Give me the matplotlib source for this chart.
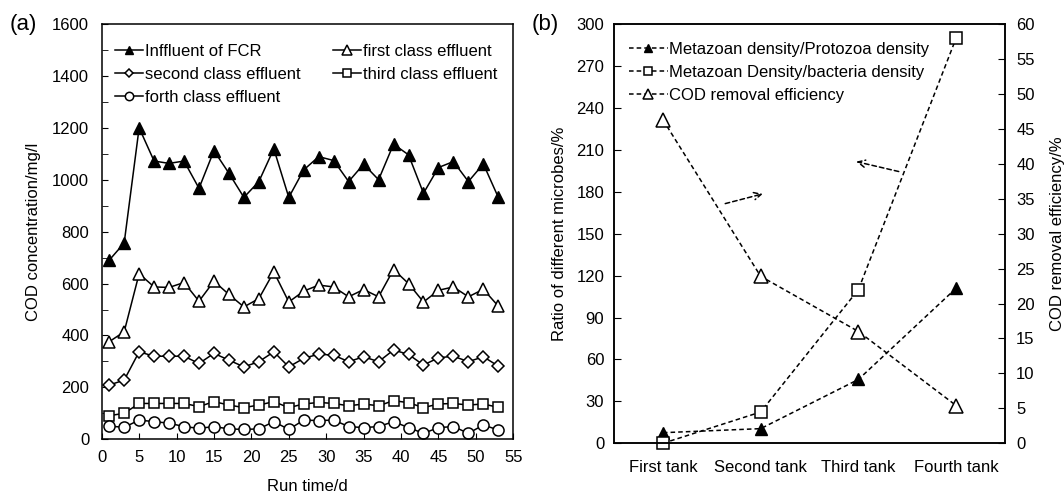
import matplotlib
matplotlib.use("Agg")
import matplotlib.pyplot as plt
from matplotlib.ticker import MultipleLocator

plt.rcParams['font.family'] = ['Liberation Sans', 'DejaVu Sans']

# ---------------- data: panel (a) ----------------
run_days = [1, 3, 5, 7, 9, 11, 13, 15, 17, 19, 21, 23, 25, 27, 29, 31, 33, 35, 37, 39, 41, 43, 45, 47, 49, 51, 53]
influent = [690, 756, 1200, 1072, 1063, 1072, 967, 1112, 1025, 932, 993, 1119, 932, 1038, 1089, 1074, 993, 1060, 1000, 1137, 1096, 948, 1047, 1070, 993, 1061, 932]
first_eff = [376, 414, 638, 587, 585, 604, 532, 609, 558, 510, 542, 645, 529, 571, 594, 587, 549, 577, 549, 654, 600, 529, 574, 587, 549, 578, 513]
second_eff = [209, 228, 337, 320, 320, 320, 292, 331, 305, 279, 299, 337, 279, 312, 328, 324, 299, 318, 299, 344, 327, 286, 314, 320, 299, 318, 282]
third_eff = [91, 100, 138, 138, 138, 138, 126, 145, 132, 122, 132, 145, 122, 136, 142, 138, 129, 136, 129, 149, 141, 122, 136, 138, 132, 136, 123]
forth_eff = [51, 46, 74, 68, 62, 49, 42, 49, 40, 38, 40, 68, 38, 74, 72, 74, 49, 45, 49, 68, 45, 23, 45, 49, 23, 55, 36]

# ---------------- data: panel (b) ----------------
tanks = ["First tank", "Second tank", "Third tank", "Fourth tank"]
meta_proto = [7.6, 10.5, 45.7, 111]
meta_bact = [0, 22.4, 110, 290]
cod_removal = [46.3, 23.9, 16.0, 5.4]

fig = plt.figure(figsize=(10.64, 4.98), dpi=100)

TICK_FS = 12
LEG_FS = 12

# ---------------- panel (a) ----------------
axa = fig.add_axes([0.0956, 0.1179, 0.3868, 0.8339])
lw = 1.1
common = dict(color='black', lw=lw, mec='black', clip_on=False)
axa.plot(run_days, influent, '-', marker='^', ms=8, mfc='black',
         label='Inffluent of FCR', **common)
axa.plot(run_days, first_eff, '-', marker='^', ms=9, mfc='white', mew=1.1,
         label='first class effluent', **common)
axa.plot(run_days, second_eff, '-', marker='D', ms=6, mfc='white', mew=1.1,
         label='second class effluent', **common)
axa.plot(run_days, third_eff, '-', marker='s', ms=7.5, mfc='white', mew=1.1,
         label='third class effluent', **common)
axa.plot(run_days, forth_eff, '-', marker='o', ms=8, mfc='white', mew=1.1,
         label='forth class effluent', **common)

axa.set_xlim(0, 55)
axa.set_ylim(0, 1600)
axa.xaxis.set_major_locator(MultipleLocator(5))
axa.yaxis.set_major_locator(MultipleLocator(200))
axa.yaxis.set_minor_locator(MultipleLocator(100))
axa.tick_params(axis='both', which='both', direction='in', labelsize=TICK_FS)
axa.tick_params(axis='x', which='major', length=4, pad=8)
axa.tick_params(axis='y', which='both', length=4, pad=9)
for s in axa.spines.values():
    s.set_linewidth(1.1)
    s.set_zorder(3)
axa.set_xlabel('Run time/d', fontsize=TICK_FS, labelpad=10)
axa.set_ylabel('COD concentration/mg/l', fontsize=TICK_FS, labelpad=8)

h, l = axa.get_legend_handles_labels()
order = [0, 2, 4, 1, 3]
axa.legend([h[i] for i in order], [l[i] for i in order], ncol=2, frameon=False,
           loc='upper left', bbox_to_anchor=(0.0, 0.985), fontsize=LEG_FS,
           handlelength=1.7, handletextpad=0.12, columnspacing=1.9,
           labelspacing=0.5, borderaxespad=0.4, markerscale=0.75)

fig.text(0.009, 0.95, '(a)', fontsize=16, va='center', ha='left')

# ---------------- panel (b) ----------------
axb = fig.add_axes([0.5771, 0.1098, 0.3675, 0.842])
xpos = list(range(len(tanks)))
dash = (0, (3, 2))
commonb = dict(color='black', lw=1.1, linestyle=dash, mec='black', clip_on=False)
axb.plot(xpos, meta_proto, marker='^', ms=8, mfc='black',
         label='Metazoan density/Protozoa density', **commonb)
axb.plot(xpos, meta_bact, marker='s', ms=8.5, mfc='white', mew=1.1,
         label='Metazoan Density/bacteria density', **commonb)
axb2 = axb.twinx()
axb2.plot(xpos, cod_removal, marker='^', ms=10.5, mfc='white', mew=1.1,
          label='COD removal efficiency', **commonb)

axb.set_xlim(-0.5, 3.5)
axb.set_ylim(0, 300)
axb2.set_ylim(0, 60)
axb.set_xticks(xpos)
axb.set_xticklabels(tanks)
axb.yaxis.set_major_locator(MultipleLocator(30))
axb2.yaxis.set_major_locator(MultipleLocator(5))
axb.tick_params(axis='x', length=0, pad=12, labelsize=TICK_FS)
axb.tick_params(axis='y', direction='in', length=5, pad=7, labelsize=TICK_FS)
axb2.tick_params(axis='y', direction='in', length=5, pad=8, labelsize=TICK_FS)
for s in list(axb.spines.values()) + list(axb2.spines.values()):
    s.set_linewidth(1.1)
axb.set_ylabel('Ratio of different microbes/%', fontsize=TICK_FS, labelpad=7)
axb2.set_ylabel('COD removal efficiency/%', fontsize=TICK_FS, labelpad=11)

hb, lb = axb.get_legend_handles_labels()
hb2, lb2 = axb2.get_legend_handles_labels()
axb.legend(hb + hb2, lb + lb2, frameon=False, loc='upper left',
           bbox_to_anchor=(0.005, 0.99), fontsize=LEG_FS, handlelength=2.3,
           handletextpad=0.1, labelspacing=0.5, borderaxespad=0.4,
           markerscale=0.7)

# dashed arrows
arrow_kw = dict(arrowstyle='->', color='black', lw=1.1, linestyle=(0, (3, 2)),
                mutation_scale=13)
axb.annotate('', xy=(1.05, 179), xytext=(0.61, 171), arrowprops=arrow_kw)
axb.annotate('', xy=(1.95, 202), xytext=(2.44, 194), arrowprops=arrow_kw)

fig.text(0.500, 0.95, '(b)', fontsize=16, va='center', ha='left')

fig.savefig('out.png', dpi=100)
